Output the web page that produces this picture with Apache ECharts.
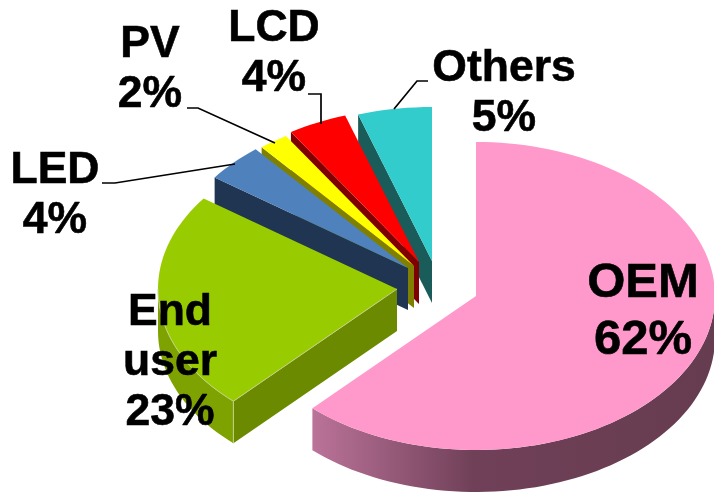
<!DOCTYPE html>
<html>
<head>
<meta charset="utf-8">
<style>
	html, body { margin: 0; padding: 0; background: #fff; }
	#containerPie { width: 714px; height: 492px; }
</style>
<script src="https://cdn.jsdelivr.net/npm/echarts@6/dist/echarts.min.js"></script>
</head>
<body>
<div id="containerPie"></div>
<script>
var categories = ['OEM', 'End\nuser', 'LED', 'PV', 'LCD', 'Others'];
var shares = [62, 23, 4, 2, 4, 5];

// look of the fake 3D pie, same order as categories
var topColors = ['#ff99cc', '#99cc00', '#4f81bd', '#ffff00', '#ff0000', '#33cccc'];
var wallColors = ['#6b3d52', '#6b8a00', '#1f3552', '#7f7f00', '#7f0000', '#1a5c5a'];
var apexes = [[476, 296], [397, 289], [408, 268], [414, 266], [419, 262], [432, 261]];
var labelAnchors = [[643, 312], [170, 363], [55, 196], [150, 70], [274, 54], [504, 94]];
var leaders = [
	null,
	null,
	[[102, 183], [115, 183], [235, 164]],
	[[187, 108], [198, 108], [275, 143]],
	[[308, 94], [321, 94], [321, 124]],
	[[428, 81], [417, 81], [394, 109]]
];

var RX = 239, RY = 154, DEPTH = 42;

function rad(deg) {
	return deg * Math.PI / 180;
}

function rimPoint(apex, deg, drop) {
	return [
		apex[0] + RX * Math.sin(rad(deg)),
		apex[1] - RY * Math.cos(rad(deg)) + (drop || 0)
	];
}

function arcPoints(apex, from, to, drop) {
	var res = [];
	var steps = Math.max(2, Math.ceil(Math.abs(to - from) / 2));
	for (var i = 0; i <= steps; i++) {
		res.push(rimPoint(apex, from + (to - from) * i / steps, drop));
	}
	return res;
}

function renderSlice(params, api) {
	var i = params.dataIndex;
	var total = shares.reduce(function(a, b) { return a + b; }, 0);
	var before = 0;
	for (var k = 0; k < i; k++) {
		before += shares[k];
	}
	var start = before / total * 360;
	var end = start + api.value(0) / total * 360;
	var apex = apexes[i];
	var z = (shares.length - i) * 10;
	var children = [];

	// side wall along the starting edge
	var corner = rimPoint(apex, start);
	children.push({
		type: 'polygon',
		z2: z,
		shape: { points: [apex, corner, [corner[0], corner[1] + DEPTH], [apex[0], apex[1] + DEPTH]] },
		style: { fill: wallColors[i] }
	});

	// outer rim, only the part facing the viewer
	var rimFrom = Math.max(start, 90);
	var rimTo = Math.min(end, 270);
	if (rimTo > rimFrom) {
		var rimFill = wallColors[i];
		if (i === 0) {
			rimFill = new echarts.graphic.LinearGradient(0, 0, 1, 0, [
				{ offset: 0, color: '#bb7399' },
				{ offset: 0.4, color: '#704058' },
				{ offset: 1, color: '#663c50' }
			]);
		} else if (i === 1) {
			rimFill = '#7ea300';
		}
		children.push({
			type: 'polygon',
			z2: z + 1,
			shape: { points: arcPoints(apex, rimFrom, rimTo, 0).concat(arcPoints(apex, rimTo, rimFrom, DEPTH)) },
			style: { fill: rimFill }
		});
	}

	// top face
	children.push({
		type: 'polygon',
		z2: z + 2,
		shape: { points: [apex].concat(arcPoints(apex, start, end, 0)) },
		style: { fill: topColors[i] }
	});

	// pale edge lines on the green slice
	if (i === 1) {
		children.push({
			type: 'polyline',
			z2: z + 3,
			shape: { points: [apex, corner, [corner[0], corner[1] + DEPTH]] },
			style: { fill: null, stroke: '#c4d08c', lineWidth: 1 }
		});
		children.push({
			type: 'polyline',
			z2: z + 3,
			shape: { points: arcPoints(apex, start, rimTo, 0) },
			style: { fill: null, stroke: '#c4d08c', lineWidth: 1 }
		});
	}

	if (leaders[i]) {
		children.push({
			type: 'polyline',
			z2: 100,
			shape: { points: leaders[i] },
			style: { fill: null, stroke: '#000', lineWidth: 1.7 }
		});
	}

	var big = i === 0;
	children.push({
		type: 'text',
		z2: 110,
		x: labelAnchors[i][0],
		y: labelAnchors[i][1],
		style: {
			text: categories[i] + '\n' + api.value(0) + '%',
			fill: '#000',
			stroke: '#000',
			lineWidth: 0.6,
			font: 'bold ' + (big ? 49 : 44.5) + 'px "Liberation Sans", Arial, sans-serif',
			lineHeight: big ? 57 : 50,
			textAlign: 'center',
			textVerticalAlign: 'middle'
		}
	});

	return { type: 'group', children: children };
}

var domPie = document.getElementById('containerPie');
var chartPie = echarts.init(domPie);

chartPie.setOption({
	animation: false,
	backgroundColor: '#fff',
	series: [{
		type: 'custom',
		coordinateSystem: 'none',
		renderItem: renderSlice,
		silent: true,
		data: shares.map(function(v) { return [v]; })
	}]
});
</script>
</body>
</html>
